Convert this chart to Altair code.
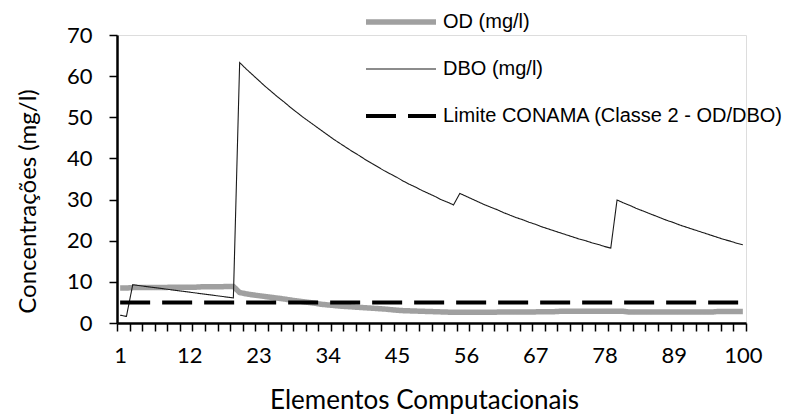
import altair as alt
import pandas as pd

# Computational elements along the river reach
elements = list(range(1, 101))

# Dissolved oxygen (mg/l) per element
od = [
    8.5, 8.5, 8.6, 8.6, 8.6, 8.6, 8.6, 8.6, 8.7, 8.7,
    8.7, 8.7, 8.7, 8.8, 8.8, 8.8, 8.8, 8.9, 8.9, 7.4,
    7.1, 6.85, 6.65, 6.45, 6.25, 6.05, 5.85, 5.6, 5.4, 5.2,
    5.0, 4.8, 4.55, 4.4, 4.25, 4.1, 4.0, 3.9, 3.8, 3.7,
    3.6, 3.5, 3.4, 3.25, 3.1, 3.0, 2.95, 2.9, 2.85, 2.8,
    2.75, 2.7, 2.65, 2.6, 2.6, 2.6, 2.6, 2.6, 2.6, 2.6,
    2.65, 2.65, 2.65, 2.7, 2.7, 2.7, 2.7, 2.75, 2.75, 2.75,
    2.85, 2.85, 2.85, 2.85, 2.85, 2.85, 2.85, 2.85, 2.85, 2.85,
    2.85, 2.65, 2.65, 2.65, 2.65, 2.65, 2.65, 2.65, 2.65, 2.65,
    2.65, 2.65, 2.65, 2.65, 2.65, 2.8, 2.8, 2.8, 2.8, 2.8,
]

# Biochemical oxygen demand (mg/l) per element
dbo = [
    1.9, 1.6, 9.3, 9.1, 8.9, 8.7, 8.5, 8.3, 8.1, 7.9,
    7.7, 7.5, 7.3, 7.1, 6.9, 6.7, 6.5, 6.3, 6.1, 63.3,
    61.8, 60.4, 59.0, 57.6, 56.3, 55.0, 53.8, 52.5, 51.3, 50.1,
    49.0, 47.9, 46.8, 45.7, 44.6, 43.6, 42.6, 41.6, 40.7, 39.7,
    38.8, 37.9, 37.0, 36.2, 35.4, 34.5, 33.7, 33.0, 32.2, 31.5,
    30.8, 30.0, 29.4, 28.7, 31.5, 30.8, 30.1, 29.4, 28.7, 28.1,
    27.5, 26.8, 26.2, 25.6, 25.1, 24.5, 24.0, 23.4, 22.9, 22.4,
    21.9, 21.4, 20.9, 20.4, 20.0, 19.5, 19.1, 18.6, 18.2, 29.9,
    29.2, 28.6, 27.9, 27.3, 26.7, 26.1, 25.5, 24.9, 24.4, 23.8,
    23.3, 22.8, 22.3, 21.8, 21.3, 20.8, 20.3, 19.9, 19.4, 19.0,
]

# CONAMA class 2 limit, drawn across the whole reach
limit_elements = [1, 100]
limit_value = [5.0, 5.0]

series_names = ["OD (mg/l)", "DBO (mg/l)", "Limite CONAMA (Classe 2 - OD/DBO)"]
x_labels = [1, 12, 23, 34, 45, 56, 67, 78, 89, 100]
y_ticks = [0, 10, 20, 30, 40, 50, 60, 70]

df = pd.concat([
    pd.DataFrame({"elemento": elements, "valor": od, "serie": series_names[0]}),
    pd.DataFrame({"elemento": elements, "valor": dbo, "serie": series_names[1]}),
    pd.DataFrame({"elemento": limit_elements, "valor": limit_value, "serie": series_names[2]}),
])

# minor ticks sit between every second category, labels every 11th
tick_positions = [0.5 + 2 * k for k in range(51)]
axis_values = sorted(set(tick_positions + x_labels))

x_enc = alt.X(
    "elemento:Q",
    scale=alt.Scale(domain=[0.5, 100.5], nice=False, zero=False),
    axis=alt.Axis(
        values=axis_values,
        title="Elementos Computacionais",
        labelExpr="datum.value % 1 == 0 ? datum.label : ''",
        tickOpacity={"condition": {"test": "datum.value % 1 != 0", "value": 1}, "value": 0},
        labelOverlap=False,
        labelFlush=False,
        labelBound=False,
        grid=False,
        tickSize=8,
        tickWidth=1.5,
        tickColor="black",
        domainColor="black",
        domainWidth=2.5,
        labelFont="Lato",
        labelFontSize=22,
        labelColor="black",
        labelPadding=14,
        titleFont="Lato",
        titleFontSize=26,
        titleFontWeight="normal",
        titleColor="black",
        titleX=307,
        titleY=77,
        titleBaseline="middle",
    ),
)

y_enc = alt.Y(
    "valor:Q",
    scale=alt.Scale(domain=[0, 70], nice=False),
    axis=alt.Axis(
        values=y_ticks,
        title="Concentrações (mg/l)",
        grid=False,
        tickSize=8,
        tickWidth=1.5,
        tickColor="black",
        domainColor="black",
        domainWidth=2.5,
        labelFont="Lato",
        labelFontSize=22,
        labelColor="black",
        labelPadding=17,
        titleFont="Lato",
        titleFontSize=24,
        titleFontWeight="normal",
        titleColor="black",
        titleAngle=270,
        titleX=-89,
        titleY=166,
        titleAlign="center",
        titleBaseline="middle",
    ),
)

legend = alt.Legend(
    title=None,
    orient="none",
    legendX=246,
    legendY=-51,
    symbolType="stroke",
    symbolSize=4900,
    labelFont="Liberation Sans",
    labelFontSize=20,
    labelColor="black",
    labelOffset=4,
    labelLimit=500,
    rowPadding=0,
    padding=0,
)

color_enc = alt.Color(
    "serie:N",
    scale=alt.Scale(domain=series_names, range=["#a0a0a0", "#1a1a1a", "#000000"]),
    legend=legend,
)
width_enc = alt.StrokeWidth(
    "serie:N",
    scale=alt.Scale(type="ordinal", domain=series_names, range=[5.5, 1.1, 4]),
    legend=legend,
)
dash_enc = alt.StrokeDash(
    "serie:N",
    scale=alt.Scale(type="ordinal", domain=series_names, range=[[1, 0], [1, 0], [30, 12]]),
    legend=legend,
)

base = alt.Chart(df).encode(
    x=x_enc, y=y_enc, color=color_enc, strokeWidth=width_enc, strokeDash=dash_enc
)

layers = [
    base.transform_filter(alt.datum.serie == name).mark_line(strokeCap="butt")
    for name in series_names
]

chart = (
    alt.layer(*layers)
    .properties(
        width=629,
        height=288,
        padding={"left": 117, "top": 35, "right": 62, "bottom": 94},
        autosize=alt.AutoSizeParams(type="none"),
    )
    .configure_view(stroke=None)
    .configure(background="white")
)

chart.save("out.html", embed_options={"renderer": "svg", "actions": False})
